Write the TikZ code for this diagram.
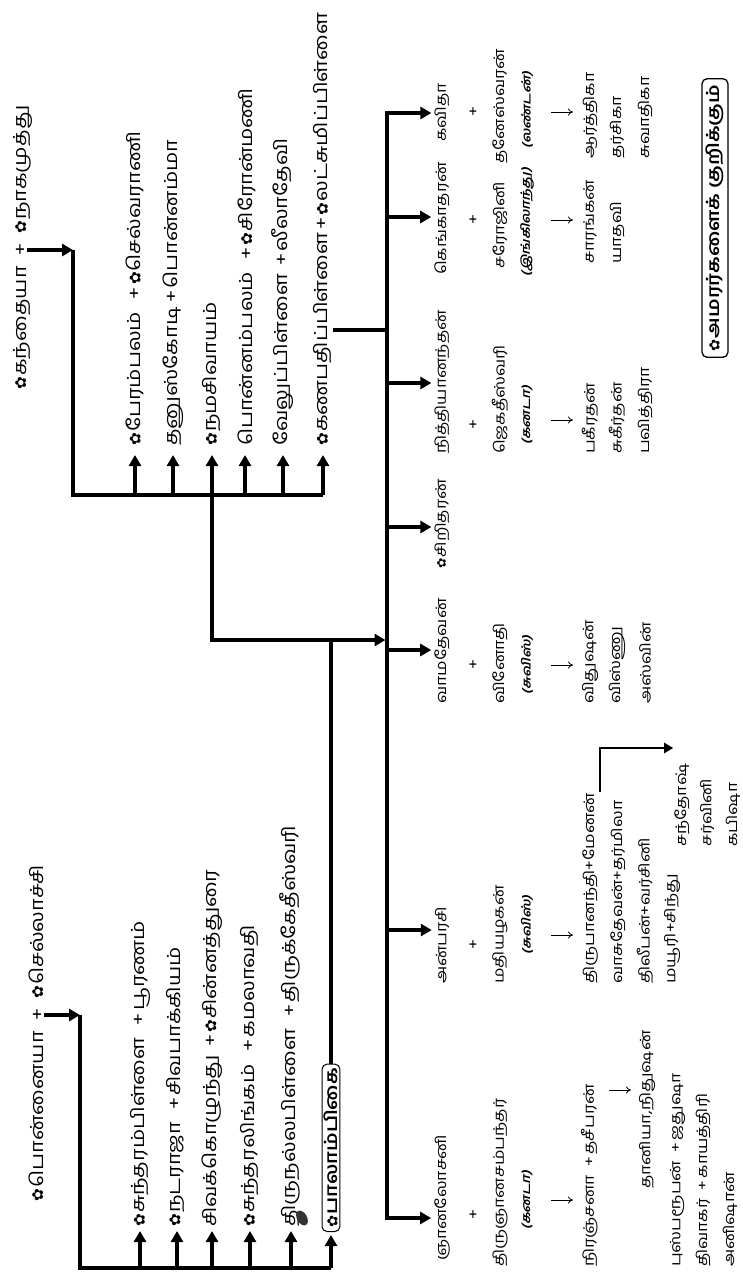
\documentclass[tikz,border=0pt]{standalone}
\usepackage{fontspec}
\usetikzlibrary{arrows.meta}
\setmainfont{Hind Madurai}[Script=Tamil, FakeStretch=1.2]
\newfontfamily\symf{DejaVu Sans}
\newfontfamily\ctyfont{Hind Madurai}[Script=Tamil, FakeSlant=0.25, FakeStretch=1.2]
\newcommand\fl{\scalebox{0.85}{\symf ✿}\hspace{1pt}}
\tikzset{
  big/.style={font=\fontsize{18}{20}\selectfont},
  txt/.style={rotate=90, anchor=west, inner sep=1pt, font=\fontsize{14.5}{17}\selectfont},
  bw/.style={txt, anchor=base west},
  cty/.style={rotate=90, inner sep=1pt, font=\ctyfont\bfseries\fontsize{12}{14}\selectfont},
  ln/.style={line width=3.5pt, line join=miter},
  arr/.style={line width=3.5pt, line join=miter, -{Triangle[width=12pt,length=11pt]}},
  tarr/.style={line width=0.8pt, -{To[length=5pt,width=7pt]}},
  keybox/.style={rotate=90, draw, rounded corners=5pt, line width=1.3pt, inner xsep=6pt, inner ysep=4pt, font=\bfseries\fontsize{17}{19}\selectfont},
}
% couple: [gap]{name}{x}{y}{text1}{text2}
\newcommand\cpl[6][10pt]{%
  \node[txt,big] (#2a) at (#3,#4) {#5};
  \node[bw,big] (#2p) at (#2a.base east) {\hspace{#1}+\hspace{#1}};
  \node[bw,big] (#2b) at (#2p.base east) {#6};}
\newcommand\gcpl[5]{%
  \node[txt] (#1a) at (#2,#3) {#4};
  \node[bw] (#1p) at (#1a.base east) {\hspace{6pt}+\hspace{6pt}};
  \node[bw] (#1b) at (#1p.base east) {#5};}
\begin{document}
\begin{tikzpicture}[x=1pt,y=-1pt]
\useasboundingbox[fill=white] (0,0) rectangle (743,1278);
% ---------- family of Kandaiya ----------
\node[rotate=90, inner sep=1pt, big] (kp) at (21,250) {+};
\node[rotate=90, anchor=base east, inner sep=1pt, big] (ka) at ([yshift=-8pt]kp.base west) {\fl கந்தையா};
\node[bw,big] (kn) at ([yshift=8pt]kp.base east) {\fl நாகமுத்து};
\coordinate (bv) at (73,495);
\cpl{b1}{135}{447}{\fl பேரம்பலம்}{\fl செல்வராணி}
\cpl[2pt]{b2}{173}{447}{தனுஸ்கோடி}{பொன்னம்மா}
\node[txt,big] (b3a) at (212,447) {\fl நமசிவாயம்};
\cpl{b4}{245}{447}{பொன்னம்பலம்}{\fl சிரோன்மணி}
\cpl[6pt]{b5}{283}{447}{வேலுப்பிள்ளை}{லீலாதேவி}
\cpl[1pt]{b6}{323}{447}{\fl கணபதிப்பிள்ளை}{\fl லட்சுமிப்பிள்ளை}
\draw[arr] (kp.south) -- (kp.south -| bv);
\draw[ln] (kp.south -| bv) -- (bv) -- (b6a.west |- bv);
\foreach \n in {b1a,b2a,b3a,b4a,b5a,b6a}
  \draw[arr, shorten >=8pt] (\n.west |- bv) -- (\n.west);
% ---------- family of Ponnaiya ----------
\node[rotate=90, inner sep=1pt, big] (ap) at (38,1015) {+};
\node[rotate=90, anchor=base east, inner sep=1pt, big] (aa) at ([yshift=-8pt]ap.base west) {\fl பொன்னையா};
\node[bw,big] (ab) at ([yshift=8pt]ap.base east) {\fl செல்லாச்சி};
\coordinate (av) at (80,1268);
\cpl{a1}{140}{1228}{\fl சுந்தரம்பிள்ளை}{பூரணம்}
\cpl{a2}{177}{1228}{\fl நடராஜா}{சிவபாக்கியம்}
\cpl[6pt]{a3}{212}{1228}{சிவக்கொழுந்து}{\fl சின்னத்துரை}
\cpl{a4}{250}{1228}{\fl சுந்தரலிங்கம்}{கமலாவதி}
\cpl{a5}{291}{1228}{திருநல்லபிள்ளை}{திருக்கேதீஸ்வரி}
\node[keybox, anchor=west, font=\bfseries\fontsize{17}{19}\selectfont, inner xsep=4pt, inner ysep=2pt, line width=1pt] (a6a) at (331,1232) {\fl பாலாம்பிகை};
\fill[black!80, rotate around={30:(302,1218)}] (302,1218) ellipse [x radius=5, y radius=8];
\draw[arr] (ap.south) -- (ap.south -| av);
\draw[ln] (ap.south -| av) -- (av) -- (a6a.west |- av);
\foreach \n in {a1a,a2a,a3a,a4a,a5a,a6a}
  \draw[arr, shorten >=3pt] (\n.west |- av) -- (\n.west);
% ---------- joining lines ----------
\coordinate (mv) at (387,113);
\coordinate (jn) at (212,640);
\coordinate (gj) at (387,330);
\draw[ln] (b6a.south |- gj) -- (gj);
\draw[arr, shorten >=1.5pt] (b3a.west |- bv) -- (jn) -- (jn -| mv);
\draw[ln] (a6a.east) -- (a6a.east |- jn);
% ---------- children ----------
\node[txt] (c1) at (442,1262) {ஞானலோசனி};
\node[txt] (c2) at (442,985) {அன்பரசி};
\node[txt] (c3) at (442,705) {வாமதேவன்};
\node[txt] (c4) at (442,570) {\fl சிறிதரன்};
\node[txt] (c5) at (442,455) {நித்தியானந்தன்};
\node[txt] (c6) at (442,276) {கெங்காதரன்};
\node[txt] (c7) at (442,143) {கவிதா};
\coordinate (m1) at (387,1218);
\coordinate (m2) at (387,930);
\coordinate (m3) at (387,650);
\coordinate (m4) at (387,527);
\coordinate (m5) at (387,383);
\coordinate (m6) at (387,217);
\coordinate (m7) at (387,113);
\draw[ln, line cap=rect] (m7) -- (m1);
\foreach \i in {1,...,7}
  \draw[arr, shorten >=2pt] (m\i) -- (m\i -| c\i.north);
% plus signs
\foreach \i/\y in {1/1215,2/945,3/665,5/425,6/220,7/112}
  \node[rotate=90, inner sep=1pt, font=\fontsize{15}{17}\selectfont] (p\i) at (474,\y) {+};
% spouses
\node[txt] (s1) at (500,1268) {திருஞானசம்பந்தர்};
\node[txt] (s2) at (500,985) {மதியழகன்};
\node[txt] (s3) at (500,705) {வினோதி};
\node[txt] (s5) at (500,455) {ஜெகதீஸ்வரி};
\node[txt] (s6) at (500,270) {சரோஜினி};
\node[txt] (s7) at (500,165) {தனேஸ்வரன்};
% countries
\node[cty] (k1) at (527,1200) {(கனடா)};
\node[cty] (k2) at (527,925) {(சுவிஸ்)};
\node[cty] (k3) at (527,665) {(சுவிஸ்)};
\node[cty] (k5) at (527,415) {(கனடா)};
\node[cty] (k6) at (527,222) {(இங்கிலாந்து)};
\node[cty] (k7) at (527,110) {(லண்டன்)};
% thin arrows
\foreach \i/\y in {1/1200,2/935,3/665,5/420,6/220,7/112}{
  \coordinate (r\i) at (562,\y);
  \draw[tarr] ([xshift=-11pt]r\i) -- ([xshift=11pt]r\i);}
% grandchildren
\gcpl{g11}{590}{1268}{நிரஞ்சனா}{தசீபரன்}
\coordinate (r8) at (620,1090);
\draw[tarr] ([xshift=-11pt]r8) -- ([xshift=11pt]r8);
\node[txt] (g12) at (647,1190) {தானியா,நிதுஷன்};
\gcpl{g13}{677}{1268}{புஸ்பரூபன்}{ஜதுஷா}
\gcpl{g14}{703}{1268}{திவாகர்}{காயத்திரி}
\node[txt] (g15) at (730,1268) {அனிஷான்};
\node[txt] (g21) at (590,985) {திருபானந்தி+மேனன்};
\node[txt] (g22) at (618,985) {வாசுதேவன்+தர்மிலா};
\node[txt] (g23) at (645,985) {திலீபன்+வர்சினி};
\node[txt] (g24) at (672,985) {மயூரி+சிந்து};
\node[txt] (h1) at (682,848) {சந்தோஷ்};
\node[txt] (h2) at (707,848) {சர்வினி};
\node[txt] (h3) at (733,848) {கபிஷா};
\coordinate (bt) at (600,748);
\draw[line width=2.5pt, -{Triangle[width=10pt,length=9pt]}] (g21.east -| bt) -- (bt) -- (bt -| h1.north);
\node[txt] (g31) at (590,705) {விதுஷன்};
\node[txt] (g32) at (617,705) {விஸ்ணு};
\node[txt] (g33) at (645,705) {அஸ்வின்};
\node[txt] (g51) at (590,455) {பகீரதன்};
\node[txt] (g52) at (617,455) {சுகீர்தன்};
\node[txt] (g53) at (645,455) {பவித்திரா};
\node[txt] (g61) at (590,265) {சாரங்கன்};
\node[txt] (g62) at (617,265) {யாதவி};
\node[txt] (g71) at (590,160) {ஆர்த்திகா};
\node[txt] (g72) at (617,160) {தர்சிகா};
\node[txt] (g73) at (645,160) {சுவாதிகா};
% key
\node[keybox] (key) at (715,218) {\fl அமரர்களைக் குறிக்கும்};
\end{tikzpicture}
\end{document}
